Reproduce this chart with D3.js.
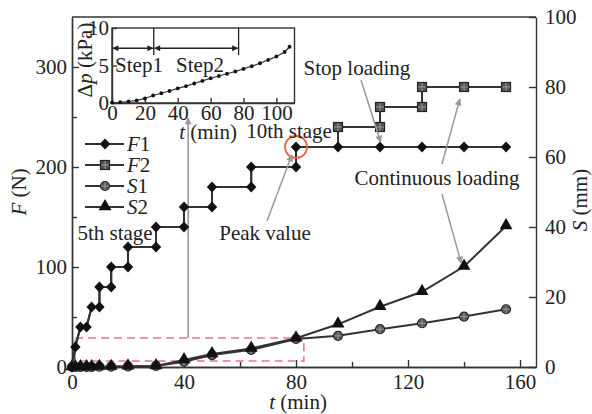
<!DOCTYPE html>
<html>
<head>
<meta charset="utf-8">
<script src="https://cdn.jsdelivr.net/npm/d3@7"></script>
<style>
body { margin: 0; background: #fff; }
svg text { font-family: "Liberation Serif", "Times New Roman", Times, "DejaVu Serif", serif; fill: #222; }
.axis path, .axis line { stroke: #333; stroke-width: 1.4; }
.axis text { font-size: 21px; font-family: "Liberation Serif", "Times New Roman", Times, "DejaVu Serif", serif; fill: #222; }
.lbl { font-size: 21px; }
</style>
</head>
<body>
<div id="chart"></div>
<script>
// ---- data ----
const tF1 = [0, 1.2, 3, 5.2, 7, 9.8, 9.8, 14, 14, 20, 20, 30, 30, 40, 40, 50, 50, 64, 64, 80, 80, 95, 110, 125, 140, 155];
const valF1 = [0, 20, 40, 40, 60, 60, 80, 80, 100, 100, 120, 120, 140, 140, 160, 160, 180, 180, 200, 200, 220, 220, 220, 220, 220, 220];

const tF2 = [0, 1.2, 3, 5.2, 7, 9.8, 9.8, 14, 14, 20, 20, 30, 30, 40, 40, 50, 50, 64, 64, 80, 80, 95, 95, 110, 110, 125, 125, 140, 155];
const valF2 = [0, 20, 40, 40, 60, 60, 80, 80, 100, 100, 120, 120, 140, 140, 160, 160, 180, 180, 200, 200, 220, 220, 240, 240, 260, 260, 280, 280, 280];

const tS = [0, 1.2, 3, 5.2, 7, 9.8, 14, 20, 30, 40, 50, 64, 80, 95, 110, 125, 140, 155];
const valS1 = [0, 0, 0, 0, 0, 0.1, 0.1, 0.2, 0.3, 1.5, 3.4, 4.9, 8.0, 8.9, 10.8, 12.5, 14.4, 16.5];
const valS2 = [0, 0, 0, 0, 0, 0.1, 0.1, 0.2, 0.3, 2.0, 3.7, 5.3, 8.2, 12.2, 17.2, 21.5, 28.7, 40.3];

// inset: pressure difference
const tDp = [0, 5, 10, 15, 20, 25, 30, 35, 40, 45, 50, 55, 60, 65, 70, 75, 80, 85, 90, 95, 100, 105, 108];
const valDp = [0.05, 0.1, 0.2, 0.35, 0.6, 1.0, 1.3, 1.6, 1.95, 2.25, 2.6, 2.95, 3.3, 3.6, 3.9, 4.2, 4.55, 4.9, 5.3, 5.75, 6.2, 6.8, 7.5];

const xTicks = [0, 40, 80, 120, 160];
const xMinor = [20, 60, 100, 140];
const fTicks = [0, 100, 200, 300];
const fMinor = [50, 150, 250];
const sTicks = [0, 20, 40, 60, 80, 100];
const insetXTicks = [0, 20, 40, 60, 80, 100];
const insetYTicks = [0, 5, 10];
const stepBounds = [0, 25.4, 77];

const W = 592, H = 414;
const m = {left: 72, right: 56, top: 17, bottom: 47};

const svg = d3.select('#chart').append('svg')
  .attr('width', W).attr('height', H);

const defs = svg.append('defs');
function arrowDef(id, color, w, h) {
  defs.append('marker')
    .attr('id', id)
    .attr('viewBox', '0 0 10 10')
    .attr('refX', 9).attr('refY', 5)
    .attr('markerWidth', w).attr('markerHeight', h)
    .attr('markerUnits', 'userSpaceOnUse')
    .attr('orient', 'auto-start-reverse')
    .append('path')
    .attr('d', 'M0,0 L10,5 L0,10 Z')
    .attr('fill', color);
}
arrowDef('ag', '#999', 10, 7);
arrowDef('ab', '#222', 9, 6);

const x = d3.scaleLinear().domain([0, 165.7]).range([m.left, W - m.right]);
const yF = d3.scaleLinear().domain([0, 350]).range([H - m.bottom, m.top]);
const yS = d3.scaleLinear().domain([0, 100]).range([H - m.bottom, m.top]);

// ---- axes ----
svg.append('g').attr('class', 'axis')
  .attr('transform', 'translate(0,' + (H - m.bottom) + ')')
  .call(d3.axisBottom(x).tickValues(xTicks).tickSize(-7).tickPadding(7).tickSizeOuter(0));
svg.append('g').attr('class', 'axis')
  .attr('transform', 'translate(0,' + (H - m.bottom) + ')')
  .call(d3.axisBottom(x).tickValues(xMinor).tickSize(-5).tickFormat('').tickSizeOuter(0));

svg.append('g').attr('class', 'axis')
  .attr('transform', 'translate(' + m.left + ',0)')
  .call(d3.axisLeft(yF).tickValues(fTicks).tickSize(-7).tickPadding(5).tickSizeOuter(0));
svg.append('g').attr('class', 'axis')
  .attr('transform', 'translate(' + m.left + ',0)')
  .call(d3.axisLeft(yF).tickValues(fMinor).tickSize(-5).tickFormat('').tickSizeOuter(0));

svg.append('g').attr('class', 'axis')
  .attr('transform', 'translate(' + (W - m.right) + ',0)')
  .call(d3.axisRight(yS).tickValues(sTicks).tickSize(-7).tickPadding(9).tickSizeOuter(0));

svg.append('line')
  .attr('x1', m.left).attr('x2', W - m.right)
  .attr('y1', m.top).attr('y2', m.top)
  .attr('stroke', '#333').attr('stroke-width', 1.4);

svg.selectAll('.axis .domain').attr('stroke-width', 1.6);

// axis titles
svg.append('text').attr('class', 'lbl')
  .attr('x', 298).attr('y', 402).attr('text-anchor', 'middle').attr('dy', '0.35em')
  .html('<tspan font-style="italic">t</tspan> (min)');
svg.append('text').attr('class', 'lbl')
  .attr('transform', 'translate(19,192) rotate(-90)')
  .attr('text-anchor', 'middle').attr('dy', '0.35em')
  .html('<tspan font-style="italic">F</tspan> (N)');
svg.append('text').attr('class', 'lbl')
  .attr('transform', 'translate(580,200) rotate(-90)')
  .attr('text-anchor', 'middle').attr('dy', '0.35em')
  .html('<tspan font-style="italic">S</tspan> (mm)');

// ---- pink dashed box & grey arrow ----
svg.append('rect')
  .attr('x', x(1.1)).attr('y', yF(29))
  .attr('width', x(82.8) - x(1.1)).attr('height', yF(6) - yF(29))
  .attr('fill', 'none').attr('stroke', '#ec6fa0').attr('stroke-width', 1.6)
  .attr('stroke-dasharray', '8,5');

svg.append('line')
  .attr('x1', x(41.5)).attr('x2', x(41.5))
  .attr('y1', yF(29)).attr('y2', 118)
  .attr('stroke', '#999').attr('stroke-width', 1.6)
  .attr('marker-end', 'url(#ag)');

// ---- series ----
const lineGen = d3.line()
  .x(function(d) { return x(d[0]); })
  .y(function(d) { return d[2](d[1]); });

function pts(ts, vs, sc) {
  return ts.map(function(t, i) { return [t, vs[i], sc]; });
}

const seriesS1 = pts(tS, valS1, yS);
const seriesS2 = pts(tS, valS2, yS);
const seriesF2 = pts(tF2, valF2, yF);
const seriesF1 = pts(tF1, valF1, yF);

function drawMarker(g, type, cx, cy) {
  if (type === 'diamond') {
    g.append('path').attr('d', 'M0,-5.6L5.2,0L0,5.6L-5.2,0Z')
      .attr('transform', 'translate(' + cx + ',' + cy + ')').attr('fill', '#111');
  } else if (type === 'square') {
    g.append('rect').attr('x', cx - 4.5).attr('y', cy - 4.5).attr('width', 9).attr('height', 9)
      .attr('fill', '#555').attr('stroke', '#222').attr('stroke-width', 1.2);
    g.append('path').attr('d', 'M' + (cx - 4) + ',' + cy + 'H' + (cx + 4) + 'M' + cx + ',' + (cy - 4) + 'V' + (cy + 4))
      .attr('stroke', '#aaa').attr('stroke-width', 0.8);
  } else if (type === 'circle') {
    g.append('circle').attr('cx', cx).attr('cy', cy).attr('r', 4.5)
      .attr('fill', '#555').attr('stroke', '#222').attr('stroke-width', 1.2);
    g.append('path').attr('d', 'M' + (cx - 4) + ',' + cy + 'H' + (cx + 4) + 'M' + cx + ',' + (cy - 4) + 'V' + (cy + 4))
      .attr('stroke', '#aaa').attr('stroke-width', 0.8);
  } else {
    g.append('path').attr('d', d3.symbol(d3.symbolTriangle, 72)())
      .attr('transform', 'translate(' + cx + ',' + (cy - 0.5) + ')').attr('fill', '#111');
  }
}

// markers of a series that sit under another series' markers are left out
function drawSeries(data, type, hiddenUnder) {
  let g = svg.append('g');
  g.append('path').datum(data)
    .attr('d', lineGen)
    .attr('fill', 'none').attr('stroke', '#333').attr('stroke-width', 2);
  data.forEach(function(d) {
    let covered = hiddenUnder && hiddenUnder.some(function(o) { return o[0] === d[0] && o[1] === d[1]; });
    if (!covered) drawMarker(g, type, x(d[0]), d[2](d[1]));
  });
}

drawSeries(seriesS1, 'circle');
drawSeries(seriesS2, 'triangle');
drawSeries(seriesF2, 'square', seriesF1);
drawSeries(seriesF1, 'diamond');

// ---- legend ----
const legendItems = [['F', '1', 'diamond'], ['F', '2', 'square'], ['S', '1', 'circle'], ['S', '2', 'triangle']];
const legendY = [144, 165, 186, 207];
legendItems.forEach(function(it, i) {
  let g = svg.append('g');
  g.append('line').attr('x1', 85).attr('x2', 124).attr('y1', legendY[i]).attr('y2', legendY[i])
    .attr('stroke', '#333').attr('stroke-width', 2);
  drawMarker(g, it[2], 105, legendY[i]);
  g.append('text').attr('class', 'lbl').attr('x', 127).attr('y', legendY[i]).attr('dy', '0.35em')
    .html('<tspan font-style="italic">' + it[0] + '</tspan>' + it[1]);
});

// ---- annotations ----
svg.append('circle')
  .attr('cx', x(80)).attr('cy', yF(220)).attr('r', 11)
  .attr('fill', 'none').attr('stroke', '#e8643c').attr('stroke-width', 1.8);

function note(txt, px, py) {
  svg.append('text').attr('class', 'lbl').attr('x', px).attr('y', py)
    .attr('text-anchor', 'middle').attr('dy', '0.35em').text(txt);
}
note('5th stage', 115, 233);
note('10th stage', 289, 131);
note('Peak value', 265, 233);
note('Stop loading', 357, 68);
note('Continuous loading', 437, 178);

function greyArrow(x1, y1, x2, y2) {
  svg.append('line').attr('x1', x1).attr('y1', y1).attr('x2', x2).attr('y2', y2)
    .attr('stroke', '#999').attr('stroke-width', 1.5).attr('marker-end', 'url(#ag)');
}
greyArrow(267, 221, x(78.5), yF(212));
greyArrow(361, 80, x(110.2), yF(225));
greyArrow(442, 164, x(138.5), yF(268));
greyArrow(442, 194, x(139), yF(104));

// ---- inset ----
const ix = d3.scaleLinear().domain([0, 111]).range([112, 294.5]);
const iy = d3.scaleLinear().domain([0, 10]).range([103, 28]);

const inset = svg.append('g');
inset.append('rect')
  .attr('x', ix(0)).attr('y', iy(10))
  .attr('width', ix(111) - ix(0)).attr('height', iy(0) - iy(10))
  .attr('fill', '#fff').attr('stroke', '#333').attr('stroke-width', 1.4);

inset.append('g').attr('class', 'axis')
  .attr('transform', 'translate(0,' + iy(0) + ')')
  .call(d3.axisBottom(ix).tickValues(insetXTicks).tickSize(-5).tickPadding(2).tickSizeOuter(0));
inset.append('g').attr('class', 'axis')
  .attr('transform', 'translate(' + ix(0) + ',0)')
  .call(d3.axisLeft(iy).tickValues(insetYTicks).tickSize(-5).tickPadding(3).tickSizeOuter(0));

inset.append('text').attr('class', 'lbl')
  .attr('x', 208).attr('y', 132).attr('text-anchor', 'middle').attr('dy', '0.35em')
  .html('<tspan font-style="italic">t</tspan> (min)');
inset.append('text').attr('class', 'lbl')
  .attr('transform', 'translate(85,60) rotate(-90)')
  .attr('text-anchor', 'middle').attr('dy', '0.35em')
  .html('Δ<tspan font-style="italic">p</tspan> (kPa)');

// step dividers and double arrows
[stepBounds[1], stepBounds[2]].forEach(function(t) {
  inset.append('line').attr('x1', ix(t)).attr('x2', ix(t))
    .attr('y1', iy(10)).attr('y2', iy(6.4))
    .attr('stroke', '#222').attr('stroke-width', 1.3);
});
for (let i = 0; i < 2; i++) {
  inset.append('line')
    .attr('x1', ix(stepBounds[i]) + 1).attr('x2', ix(stepBounds[i + 1]) - 1)
    .attr('y1', iy(7.3)).attr('y2', iy(7.3))
    .attr('stroke', '#222').attr('stroke-width', 1.3)
    .attr('marker-start', 'url(#ab)').attr('marker-end', 'url(#ab)');
}
inset.append('text').attr('class', 'lbl').attr('x', 139).attr('y', 65)
  .attr('text-anchor', 'middle').attr('dy', '0.35em').text('Step1');
inset.append('text').attr('class', 'lbl').attr('x', 200).attr('y', 65)
  .attr('text-anchor', 'middle').attr('dy', '0.35em').text('Step2');

const dpData = tDp.map(function(t, i) { return [t, valDp[i]]; });
inset.append('path').datum(dpData)
  .attr('d', d3.line().x(function(d) { return ix(d[0]); }).y(function(d) { return iy(d[1]); }))
  .attr('fill', 'none').attr('stroke', '#333').attr('stroke-width', 1.2);
inset.selectAll('.dot').data(dpData).enter().append('circle')
  .attr('cx', function(d) { return ix(d[0]); })
  .attr('cy', function(d) { return iy(d[1]); })
  .attr('r', 1.9).attr('fill', '#111');
</script>
</body>
</html>
